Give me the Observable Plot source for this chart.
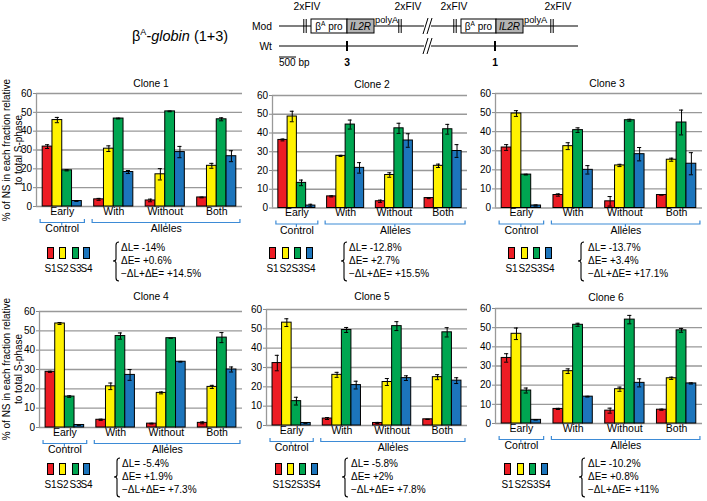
<!DOCTYPE html>
<html><head><meta charset="utf-8">
<script src="https://cdn.jsdelivr.net/npm/d3@7"></script>
<script src="https://cdn.jsdelivr.net/npm/@observablehq/plot@0.6"></script>
<style>
body{margin:0;background:#fff;font-family:Arial,"Liberation Sans",sans-serif;color:#000;}
#root{position:relative;width:707px;height:501px;overflow:hidden;background:#fff;}
.t{position:absolute;white-space:nowrap;line-height:1;}
.c{transform:translate(-50%,-50%);}
.l{transform:translate(0,-50%);}
.sw{position:absolute;box-sizing:border-box;border:1px solid #000;}
</style></head><body><div id="root"></div>
<script>
// ---------- data ----------
const groups = ["Early", "With", "Without", "Both"];
const series = ["S1", "S2", "S3", "S4"];
const seriesColors = ["#ed1c24", "#fff200", "#00a651", "#1c75bc"];
const yTicks = [0, 10, 20, 30, 40, 50, 60];
const cloneNames = ["Clone 1", "Clone 2", "Clone 3", "Clone 4", "Clone 5", "Clone 6"];
// values[group][series]
const clone1Values = [[31.8, 45.9, 19.2, 2.9], [3.8, 30.7, 46.7, 18.3], [3.2, 17.1, 50.5, 28.9], [4.8, 21.6, 46.3, 26.7]];
const clone1Errors = [[1.0, 1.4, 0.3, 0.2], [0.5, 1.5, 0.2, 0.8], [0.7, 3.0, 0.2, 3.0], [0.2, 1.3, 0.8, 2.9]];
const clone2Values = [[36.3, 48.8, 13.4, 1.3], [6.2, 27.8, 44.5, 21.4], [3.6, 17.6, 42.5, 36.0], [5.3, 22.5, 42.0, 30.4]];
const clone2Errors = [[0.5, 2.8, 1.5, 0.7], [0.3, 0.3, 2.4, 2.8], [0.6, 1.2, 2.7, 3.6], [0.3, 0.9, 2.6, 3.4]];
const clone3Values = [[31.7, 49.5, 17.5, 1.3], [6.8, 32.4, 40.8, 20.0], [3.5, 22.3, 46.0, 28.2], [6.8, 25.3, 44.8, 23.2]];
const clone3Errors = [[1.5, 1.5, 0.2, 0.3], [0.6, 1.8, 1.2, 2.2], [2.5, 0.6, 0.5, 3.5], [0.0, 0.8, 6.5, 5.8]];
const clone4Values = [[28.8, 53.8, 16.0, 1.3], [4.0, 21.3, 47.3, 27.2], [2.0, 17.9, 46.2, 34.0], [2.4, 21.0, 46.5, 30.0]];
const clone4Errors = [[0.3, 0.5, 0.4, 0.2], [0.3, 1.7, 1.6, 2.8], [0.2, 0.5, 0.0, 0.2], [0.5, 0.8, 2.6, 1.3]];
const clone5Values = [[32.3, 53.2, 12.6, 1.3], [3.6, 26.2, 49.4, 20.9], [1.3, 22.5, 51.4, 24.5], [3.2, 25.0, 48.2, 23.2]];
const clone5Errors = [[4.0, 2.0, 2.0, 0.2], [0.5, 1.3, 1.3, 2.0], [0.3, 1.8, 2.3, 1.2], [0.0, 1.3, 2.4, 1.5]];
const clone6Values = [[34.2, 46.8, 17.2, 1.9], [7.6, 27.3, 51.5, 14.0], [6.7, 17.9, 54.2, 21.2], [7.2, 23.6, 48.6, 20.9]];
const clone6Errors = [[2.2, 3.0, 1.3, 0.0], [0.3, 1.2, 0.8, 0.2], [1.3, 1.1, 2.2, 2.1], [0.3, 0.6, 1.0, 0.3]];
const deltaL = ["-14%", "-12.8%", "-13.7%", "-5.4%", "-5.8%", "-10.2%"];
const deltaE = ["+0.6%", "+2.7%", "+3.4%", "+1.9%", "+2%", "+0.8%"];
const deltaSum = ["+14.5%", "+15.5%", "+17.1%", "+7.3%", "+7.8%", "+11%"];
const allValues = [clone1Values, clone2Values, clone3Values, clone4Values, clone5Values, clone6Values];
const allErrors = [clone1Errors, clone2Errors, clone3Errors, clone4Errors, clone5Errors, clone6Errors];

// ---------- layout ----------
const layout = [
  {L:36,  R:242, T:93,    B:206,   tx:151, ty:84,  sw:[47,59,72,83],     br:116, lx:121, ly:248, yl:true},
  {L:272, R:467, T:95,    B:207.5, tx:372, ty:85,  sw:[269,282,294,306], br:344, lx:349, ly:248},
  {L:495, R:702, T:93,    B:207.5, tx:607, ty:84,  sw:[508,521,533,545], br:581, lx:588, ly:248},
  {L:39,  R:242, T:310.5, B:426.5, tx:151, ty:297, sw:[47,59,72,83],     br:117, lx:122, ly:464, yl:true},
  {L:266, R:467, T:309,   B:425,   tx:372, ty:297, sw:[275,287,299,311], br:345, lx:351, ly:464},
  {L:495, R:702, T:308,   B:423,   tx:606, ty:298, sw:[504,517,529,541], br:582, lx:588, ly:464}
];
const root = document.getElementById("root");
const FONT = 'Arial, "Liberation Sans", sans-serif';
function txt(s, x, y, cls, size, extra) {
  const d = document.createElement("div");
  d.className = "t " + cls;
  d.style.left = x + "px"; d.style.top = y + "px";
  d.style.fontSize = size + "px";
  if (extra) Object.assign(d.style, extra);
  d.innerHTML = s;
  root.appendChild(d);
  return d;
}

// ---------- top schematic ----------
(function diagram(){
  const yM = 26, yW = 46;
  const svg = d3.select(root).append("svg").attr("width",707).attr("height",80)
    .style("position","absolute").style("left","0px").style("top","0px")
    .style("font-family", FONT);
  const line = (x1,y1,x2,y2,w)=>svg.append("line").attr("x1",x1).attr("y1",y1).attr("x2",x2).attr("y2",y2).attr("stroke","#000").attr("stroke-width",w||1);
  line(279,yM,578,yM,1.2);
  line(279,yW,578,yW,1.2);
  [305,400,455,552].forEach(x=>{ line(x-1.2,yM-7,x-1.2,yM+7,1); line(x+1.2,yM-7,x+1.2,yM+7,1); });
  [[311,347,374],[461,496,523]].forEach(([a,m,b])=>{
    svg.append("rect").attr("x",a).attr("y",yM-7).attr("width",m-a).attr("height",14).attr("fill","#fff").attr("stroke","#000");
    svg.append("rect").attr("x",m).attr("y",yM-7).attr("width",b-m).attr("height",14).attr("fill","#b3b3b3").attr("stroke","#000");
    svg.append("text").attr("x",(a+m)/2).attr("y",yM+3.5).attr("text-anchor","middle").attr("font-size",10).html('β<tspan font-size="6.5" dy="-3.5">A</tspan><tspan dy="3.5"> pro</tspan>');
    svg.append("text").attr("x",(m+b)/2).attr("y",yM+3.5).attr("text-anchor","middle").attr("font-size",10).attr("font-style","italic").text("IL2R");
    svg.append("text").attr("x",b+1).attr("y",yM-3).attr("font-size",9.3).text("polyA");
  });
  [307,408,454,558].forEach(x=>svg.append("text").attr("x",x).attr("y",10).attr("text-anchor","middle").attr("font-size",10.3).text("2xFIV"));
  [[yM],[yW]].forEach(([y])=>{
    svg.append("rect").attr("x",424).attr("y",y-2).attr("width",7).attr("height",4).attr("fill","#fff");
    line(423,y+8,428,y-8,1); line(427,y+8,432,y-8,1);
  });
  [347,495].forEach(x=>line(x,yW-5,x,yW+5,2));
  svg.append("text").attr("x",347).attr("y",yW+20).attr("text-anchor","middle").attr("font-size",10.3).attr("font-weight","bold").text("3");
  svg.append("text").attr("x",495).attr("y",yW+20).attr("text-anchor","middle").attr("font-size",10.3).attr("font-weight","bold").text("1");
  line(279,yW+11,296,yW+11,1);
  svg.append("text").attr("x",279).attr("y",yW+20).attr("font-size",10).text("500 bp");
  svg.append("text").attr("x",272).attr("y",yM+3.5).attr("text-anchor","end").attr("font-size",10.3).text("Mod");
  svg.append("text").attr("x",272).attr("y",yW+3.5).attr("text-anchor","end").attr("font-size",10.3).text("Wt");
  svg.append("text").attr("x",132).attr("y",41).attr("font-size",14.5).html('β<tspan font-size="9" dy="-6">A</tspan><tspan dy="6" font-style="italic">-globin</tspan><tspan> (1+3)</tspan>');
})();

// ---------- panels ----------
const mL = 32, mR = 4, mT = 12, mB = 6;
const barW = 0.19, barStart = 0.12, capHalf = 0.04;
layout.forEach((p, ci) => {
  const data = [];
  groups.forEach((g, gi) => series.forEach((s, si) => {
    data.push({g: gi, s: s, si: si, v: allValues[ci][gi][si], e: allErrors[ci][gi][si]});
  }));
  const x1 = d => d.g + barStart + d.si * barW;
  const xc = d => d.g + barStart + (d.si + 0.5) * barW;
  const plot = Plot.plot({
    width: (p.R - p.L) + mL + mR,
    height: (p.B - p.T) + mT + mB,
    marginLeft: mL, marginRight: mR, marginTop: mT, marginBottom: mB,
    x: {domain: [0, 4], axis: null},
    y: {domain: [0, 60], axis: null},
    color: {domain: series, range: seriesColors},
    style: {fontFamily: FONT, fontSize: "10px", background: "transparent", overflow: "visible", color: "#000"},
    marks: [
      Plot.gridY(yTicks, {stroke: "#999", strokeOpacity: 1, strokeWidth: 1.3}),
      Plot.axisY(yTicks, {tickSize: 3, tickPadding: 1.5, stroke: "#888", fill: "#000", label: null, fontSize: 10}),
      Plot.ruleX([0], {stroke: "#999", strokeWidth: 1.3}),
      Plot.rectY(data, {x1: x1, x2: d => x1(d) + barW, y: "v", fill: "s", stroke: "#000", strokeWidth: 1}),
      Plot.ruleX(data, {x: xc, y1: d => d.v - d.e, y2: d => d.v + d.e, stroke: "#000", strokeWidth: 1}),
      Plot.ruleY(data, {x1: d => xc(d) - capHalf, x2: d => xc(d) + capHalf, y: d => d.v + d.e, stroke: "#000", strokeWidth: 1}),
      Plot.ruleY(data, {x1: d => xc(d) - capHalf, x2: d => xc(d) + capHalf, y: d => d.v - d.e, stroke: "#000", strokeWidth: 1}),
      Plot.text(groups, {x: (d, i) => i + 0.5, frameAnchor: "bottom", dy: 8, text: d => d, fontSize: 10.5}),
      Plot.text(["Control", "Alleles"], {x: (d, i) => i === 0 ? 0.5 : 2.52, frameAnchor: "bottom", dy: 25.5, text: d => d, fontSize: 10.5})
    ]
  });
  plot.style.position = "absolute";
  plot.style.left = (p.L - mL) + "px";
  plot.style.top = (p.T - mT) + "px";
  root.appendChild(plot);
  const sx = plot.scale("x"), sy = plot.scale("y");
  const yb = sy.apply(0) + 16.5;
  const sel = d3.select(plot);
  [[0.08, 0.94, 0.5], [1.09, 3.96, 2.52]].forEach(([a, b, c]) => {
    const xa = sx.apply(a), xb = sx.apply(b), xm = sx.apply(c);
    sel.append("path").attr("d", `M${xa},${yb-3.5}V${yb}H${xb}V${yb-3.5}M${xm},${yb}V${yb+3}`)
      .attr("fill", "none").attr("stroke", "#3d8bd6").attr("stroke-width", 1.2);
  });
  txt(cloneNames[ci], p.tx, p.ty, "c", 10.3);
  if (p.yl) {
    const cy = (p.T + p.B) / 2;
    txt("% of NS in each fraction relative", 6.5, cy, "c", 10, {transform: "translate(-50%,-50%) rotate(-90deg)"});
    txt("to total S-phase", 18.5, cy, "c", 10, {transform: "translate(-50%,-50%) rotate(-90deg)"});
  }
  p.sw.forEach((x, si) => {
    const d = document.createElement("div");
    d.className = "sw";
    Object.assign(d.style, {left: x + "px", top: (p.ly - 1) + "px", width: "7px", height: "12px", background: seriesColors[si]});
    root.appendChild(d);
    txt(series[si], x + 3.5, p.ly + 21, "c", 10);
  });
  const top = p.ly - 6, bot = p.ly + 33, mid = p.ly + 13, b = p.br;
  const bs = d3.select(root).append("svg").attr("width", 707).attr("height", 501)
    .style("position", "absolute").style("left", "0px").style("top", "0px").style("pointer-events", "none");
  bs.append("path").attr("d", `M${b+3},${top}Q${b},${top} ${b},${top+3}V${mid-2}Q${b},${mid} ${b-3},${mid}Q${b},${mid} ${b},${mid+2}V${bot-3}Q${b},${bot} ${b+3},${bot}`)
    .attr("fill", "none").attr("stroke", "#000").attr("stroke-width", 1.1);
  txt("ΔL= " + deltaL[ci], p.lx, p.ly, "l", 10);
  txt("ΔE= " + deltaE[ci], p.lx, p.ly + 13, "l", 10);
  txt("−ΔL+ΔE= " + deltaSum[ci], p.lx, p.ly + 26, "l", 10);
});
</script></body></html>
